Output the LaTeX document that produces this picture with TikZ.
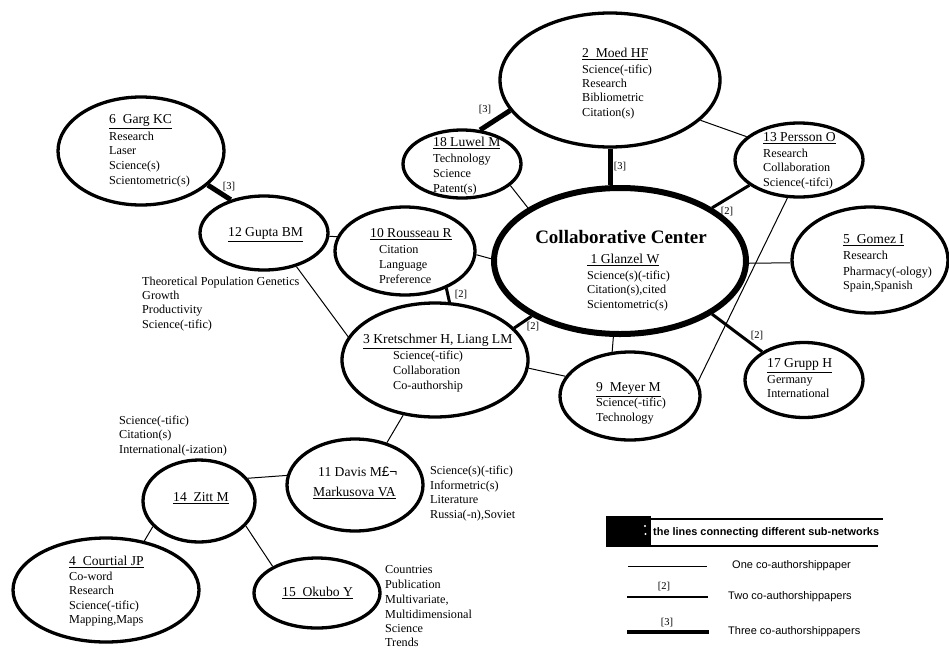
\documentclass[tikz,border=0pt]{standalone}
\usepackage{fontspec}
\setmainfont{Liberation Serif}
\newfontfamily\lsans{Liberation Sans}
\usetikzlibrary{shapes.geometric,calc}
\newcommand\kwl[4]{\node[kwt] (#1) at (#2,#3+4) {#4};}
\newcommand\nml[4]{\node[nmt] (#1) at (#2,#3+4.5) {\underline{#4}};}
\begin{document}
\begin{tikzpicture}[x=1pt,y=-1pt,
  bub/.style={ellipse, draw, line width=3.3pt, inner sep=0pt},
  hubst/.style={ellipse, draw, line width=6pt, inner sep=0pt},
  one/.style={line width=1pt},
  two/.style={line width=3pt},
  three/.style={line width=5pt},
  kwt/.style={anchor=base west, inner sep=0pt, font=\fontsize{12.2}{14}\selectfont},
  nmt/.style={anchor=base west, inner sep=0pt, font=\fontsize{13.6}{15}\selectfont},
  lab/.style={inner sep=0pt, font=\fontsize{10.5}{12}\selectfont},
  leg/.style={anchor=west, inner sep=0pt, font=\lsans\fontsize{11}{13}\selectfont}]
\useasboundingbox (0,0) rectangle (949,648);

% ---------------- ellipses ----------------
\node[bub, minimum width=220, minimum height=134] (moed) at (610,80) {};
\node[bub, minimum width=118, minimum height=68] (luwel) at (462,164) {};
\node[bub, minimum width=128, minimum height=74] (persson) at (799,160) {};
\node[bub, minimum width=166, minimum height=108] (garg) at (141,151) {};
\node[bub, minimum width=128, minimum height=74] (gupta) at (264,233) {};
\node[bub, minimum width=140, minimum height=88] (rousseau) at (405,251) {};
\node[hubst, minimum width=252, minimum height=146] (cc) at (620,261) {};
\node[bub, minimum width=156, minimum height=106] (gomez) at (870,260) {};
\node[bub, minimum width=186, minimum height=114] (kret) at (435,360) {};
\node[bub, minimum width=140, minimum height=88] (meyer) at (630,396) {};
\node[bub, minimum width=118, minimum height=75] (grupp) at (804,380) {};
\node[bub, minimum width=136, minimum height=92] (davis) at (355,485) {};
\node[bub, minimum width=112, minimum height=82] (zitt) at (199,501) {};
\node[bub, minimum width=186, minimum height=104] (courtial) at (106,590) {};
\node[bub, minimum width=126, minimum height=70] (okubo) at (317,593) {};

% ---------------- connectors ----------------
\draw[three] (garg.-27) -- (gupta.135);
\draw[one] (gupta.-3) -- (rousseau.168);
\draw[one] (gupta.-46) -- (kret.165);
\draw[two] (rousseau.-42) -- (kret.76);
\draw[one] (rousseau.-3) -- (cc.179);
\draw[one] (luwel.-24) -- (cc.150);
\draw[three] (moed.197) -- (luwel.62);
\draw[three] (moed.south) -- (moed.south |- cc.98);
\draw[one] (moed.-24) -- (persson.156);
\draw[two] (persson.207) -- (cc.30);
\draw[one] (persson.253) -- (meyer.12);
\draw[one] (cc.-1) -- (gomez.182);
\draw[two] (cc.-30) -- (grupp.146);
\draw[one] (cc.-95) -- (meyer.112);
\draw[two] (cc.212) -- (kret.22);
\draw[one] (kret.-5) -- (meyer.163);
\draw[one] (kret.-120) -- (davis.53);
\draw[one] (zitt.25) -- (davis.172);
\draw[one] (zitt.209) -- (courtial.52);
\draw[one] (zitt.-28) -- (okubo.149);

% ---------------- connector labels ----------------
\node[lab] (l1) at (229,187) {[3]};
\node[lab] (l2) at (485,110) {[3]};
\node[lab] (l3) at (620,167) {[3]};
\node[lab] (l4) at (461,295) {[2]};
\node[lab] (l5) at (533,327) {[2]};
\node[lab] (l6) at (727,212) {[2]};
\node[lab] (l7) at (757,336) {[2]};

% ---------------- texts ----------------
\nml{moedN}{582}{53}{2\ \ Moed HF}
\kwl{moedA}{582}{69}{Science(-tific)}
\kwl{moedB}{582}{83}{Research}
\kwl{moedC}{582}{97}{Bibliometric}
\kwl{moedD}{582}{112}{Citation(s)}
\nml{luwN}{433}{142}{18 Luwel M}
\kwl{luwA}{433}{158}{Technology}
\kwl{luwB}{433}{173}{Science}
\kwl{luwC}{433}{188}{Patent(s)}
\nml{perN}{763}{137}{13 Persson O}
\kwl{perA}{763}{153}{Research}
\kwl{perB}{763}{167}{Collaboration}
\kwl{perC}{763}{182}{Science(-tifci)}
\nml{garN}{109}{119}{6\ \ Garg KC}
\kwl{garA}{109}{136}{Research}
\kwl{garB}{109}{150}{Laser}
\kwl{garC}{109}{165}{Science(s)}
\kwl{garD}{109}{180}{Scientometric(s)}
\nml{gupN}{228}{232}{12 Gupta BM}
\kwl{thA}{142}{281}{Theoretical Population Genetics}
\kwl{thB}{142}{295}{Growth}
\kwl{thC}{142}{309}{Productivity}
\kwl{thD}{142}{324}{Science(-tific)}
\nml{rouN}{370}{233}{10 Rousseau R}
\kwl{rouA}{379}{249}{Citation}
\kwl{rouB}{379}{264}{Language}
\kwl{rouC}{379}{279}{Preference}
\node[anchor=base, inner sep=0pt, font=\bfseries\fontsize{19}{21}\selectfont] (title) at (621,243.5) {Collaborative Center};
\nml{glaN}{587}{259}{\ 1 Glanzel W}
\kwl{glaA}{587}{275}{Science(s)(-tific)}
\kwl{glaB}{587}{289}{Citation(s),cited}
\kwl{glaC}{587}{304}{Scientometric(s)}
\nml{gomN}{843}{239}{5\ \ Gomez I}
\kwl{gomA}{843}{255}{Research}
\kwl{gomB}{843}{271}{Pharmacy(-ology)}
\kwl{gomC}{843}{285}{Spain,Spanish}
\nml{kreN}{363}{339}{3 Kretschmer H, Liang LM}
\kwl{kreA}{393}{355}{Science(-tific)}
\kwl{kreB}{393}{370}{Collaboration}
\kwl{kreC}{393}{385}{Co-authorship}
\nml{meyN}{596}{387}{9\ \ Meyer M}
\kwl{meyA}{596}{402}{Science(-tific)}
\kwl{meyB}{596}{417}{Technology}
\nml{gruN}{767}{363}{17 Grupp H}
\kwl{gruA}{767}{379}{Germany}
\kwl{gruB}{767}{393}{International}
\node[nmt] (davN) at (318,476.5) {11 Davis M{\lsans £¬}};
\nml{davM}{313}{492}{Markusova VA}
\kwl{drA}{430}{470}{Science(s)(-tific)}
\kwl{drB}{430}{485}{Informetric(s)}
\kwl{drC}{430}{499}{Literature}
\kwl{drD}{430}{514}{Russia(-n),Soviet}
\kwl{zuA}{119}{420}{Science(-tific)}
\kwl{zuB}{119}{434}{Citation(s)}
\kwl{zuC}{119}{449}{International(-ization)}
\nml{zitN}{173}{497}{14\ \ Zitt M}
\nml{couN}{69}{561}{4\ \ Courtial JP}
\kwl{couA}{69}{576}{Co-word}
\kwl{couB}{69}{590}{Research}
\kwl{couC}{69}{605}{Science(-tific)}
\kwl{couD}{69}{619}{Mapping,Maps}
\nml{okuN}{282}{592}{15\ \ Okubo Y}
\kwl{okA}{385}{569}{Countries}
\kwl{okB}{385}{584}{Publication}
\kwl{okC}{385}{599}{Multivariate,}
\kwl{okD}{385}{614}{Multidimensional}
\kwl{okE}{385}{628}{Science}
\kwl{okF}{385}{642}{Trends}

% ---------------- legend ----------------
\node[fill=black, draw=none, minimum width=45, minimum height=30, inner sep=0pt] (blk) at (628.5,531) {};
\fill[white] (645,526) circle (1.1);
\fill[white] (645.5,534) circle (1.1);
\coordinate (bt1) at (606,519);
\coordinate (bt2) at (883,519);
\coordinate (bb1) at (606,546);
\coordinate (bb2) at (878,546);
\draw[line width=1.2pt] (bt1) -- (bt2);
\draw[line width=1.2pt] (bb1) -- (bb2);
\node[anchor=west, inner sep=0pt, font=\lsans\bfseries\fontsize{10.9}{12}\selectfont] (legt) at (653,533) {the lines connecting different sub-networks};
\coordinate (la1) at (628,566);
\coordinate (la2) at (707,566);
\coordinate (lb1) at (627,597);
\coordinate (lb2) at (708,597);
\coordinate (lc1) at (627,632);
\coordinate (lc2) at (709,632);
\draw[one] (la1) -- (la2);
\draw[line width=2.6pt] (lb1) -- (lb2);
\draw[line width=4.5pt] (lc1) -- (lc2);
\node[lab] (lg2) at (664,587) {[2]};
\node[lab] (lg3) at (667,623) {[3]};
\node[leg] (lt1) at (732,566) {One co-authorshippaper};
\node[leg] (lt2) at (728,597) {Two co-authorshippapers};
\node[leg] (lt3) at (728,632) {Three co-authorshippapers};
\end{tikzpicture}
\end{document}
